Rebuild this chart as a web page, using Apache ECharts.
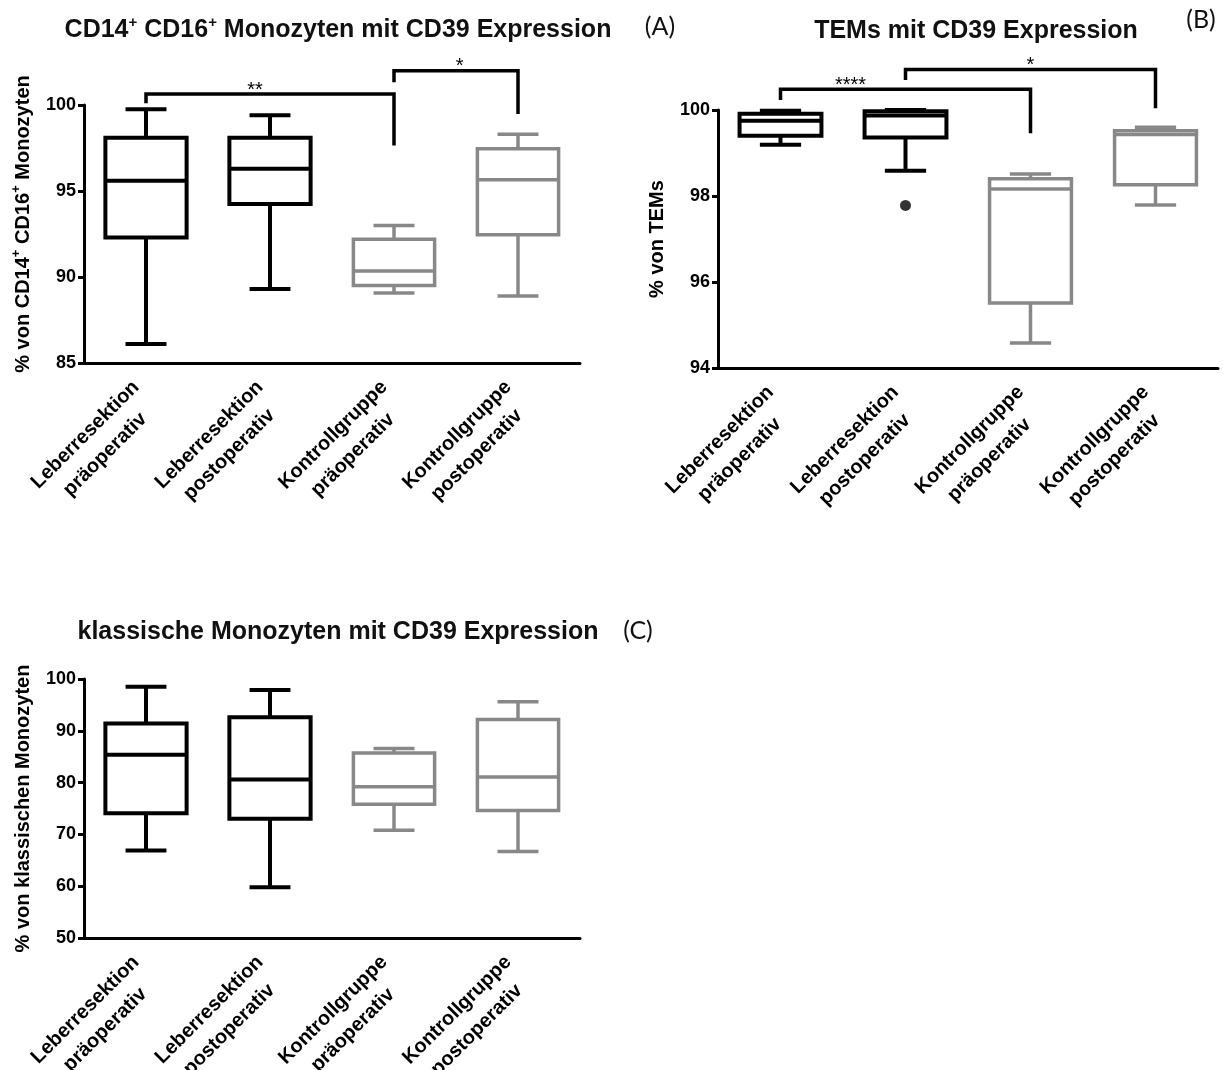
<!DOCTYPE html>
<html>
<head>
<meta charset="utf-8">
<script src="https://cdn.jsdelivr.net/npm/echarts@6/dist/echarts.min.js"></script>
<style>html,body{margin:0;padding:0;background:#fff}#chart{width:1223px;height:1070px}</style>
</head>
<body>
<div id="chart"></div>
<script>
// ---------- data ----------
const categories = ['Leberresektion\npräoperativ', 'Leberresektion\npostoperativ', 'Kontrollgruppe\npräoperativ', 'Kontrollgruppe\npostoperativ'];
// each row: [min, Q1, median, Q3, max]
const boxA = [
  [86.1, 92.3, 95.6, 98.1, 99.75],
  [89.3, 94.25, 96.3, 98.1, 99.4],
  [89.07, 89.5, 90.35, 92.2, 93.0],
  [88.9, 92.45, 95.65, 97.45, 98.3]
];
const boxB = [
  [99.19, 99.4, 99.75, 99.91, 99.98],
  [98.59, 99.36, 99.87, 99.97, 100.0],
  [94.58, 95.51, 98.16, 98.4, 98.51],
  [97.79, 98.26, 99.43, 99.52, 99.6]
];
const outliersB = [[1, 97.78]];
const boxC = [
  [66.9, 74.1, 85.4, 91.4, 98.5],
  [59.8, 73.0, 80.6, 92.6, 97.9],
  [70.8, 75.8, 79.2, 85.7, 86.6],
  [66.7, 74.6, 81.1, 92.2, 95.6]
];
// brackets: [fromCategory, toCategory, barValue, leftLegEndValue, rightLegEndValue, labelPositionFraction]
const bracketsA = [[0, 2, 100.64, 100.1, 97.64, 0.44], [2, 3, 101.99, 101.32, 99.48, 0.53]];
const bracketLabelsA = ['**', '*'];
const bracketsB = [[0, 2, 100.48, 100.23, 99.46, 0.28], [1, 3, 100.94, 100.7, 100.04, 0.5]];
const bracketLabelsB = ['****', '*'];
const yTicksA = {min: 85, max: 100, interval: 5};
const yTicksB = {min: 94, max: 100, interval: 2};
const yTicksC = {min: 50, max: 100, interval: 10};

// ---------- style ----------
const FONT = "'Liberation Sans', Arial, Helvetica, sans-serif";
const catColors = ['#000000', '#000000', '#888888', '#888888'];
const catWidths = [4, 4, 3.5, 3.5];

function boxRender(params, api) {
  const cat = api.value(0);
  const pMin = api.coord([cat, api.value(1)]);
  const pQ1 = api.coord([cat, api.value(2)]);
  const pMed = api.coord([cat, api.value(3)]);
  const pQ3 = api.coord([cat, api.value(4)]);
  const pMax = api.coord([cat, api.value(5)]);
  const band = api.size([1, 0])[0];
  const bw = band * 0.655, cw = band * 0.33;
  const x = pMed[0];
  const st = {stroke: catColors[cat], lineWidth: catWidths[cat], fill: null};
  return {
    type: 'group',
    children: [
      {type: 'line', shape: {x1: x, y1: pQ3[1], x2: x, y2: pMax[1]}, style: st},
      {type: 'line', shape: {x1: x, y1: pQ1[1], x2: x, y2: pMin[1]}, style: st},
      {type: 'line', shape: {x1: x - cw / 2, y1: pMax[1], x2: x + cw / 2, y2: pMax[1]}, style: st},
      {type: 'line', shape: {x1: x - cw / 2, y1: pMin[1], x2: x + cw / 2, y2: pMin[1]}, style: st},
      {type: 'rect', shape: {x: x - bw / 2, y: pQ3[1], width: bw, height: pQ1[1] - pQ3[1]}, style: {stroke: catColors[cat], lineWidth: catWidths[cat], fill: '#fff'}},
      {type: 'line', shape: {x1: x - bw / 2, y1: pMed[1], x2: x + bw / 2, y2: pMed[1]}, style: st}
    ]
  };
}

function bracketRender(labels) {
  return function (params, api) {
    const c1 = api.value(0), c2 = api.value(1);
    const pL = api.coord([c1, api.value(2)]);
    const pR = api.coord([c2, api.value(2)]);
    const pLe = api.coord([c1, api.value(3)]);
    const pRe = api.coord([c2, api.value(4)]);
    const t = api.value(5);
    const lx = pL[0] + (pR[0] - pL[0]) * t;
    return {
      type: 'group',
      children: [
        {type: 'polyline', shape: {points: [[pLe[0], pLe[1]], [pL[0], pL[1]], [pR[0], pR[1]], [pRe[0], pRe[1]]]},
          style: {stroke: '#000', lineWidth: 3.5, fill: null}},
        {type: 'text', x: lx, y: pL[1] - 4,
          style: {text: labels[params.dataIndex], font: '20px ' + FONT, fill: '#000', textAlign: 'center', textVerticalAlign: 'middle'}}
      ]
    };
  };
}

const boxData = arr => arr.map((r, i) => [i].concat(r));

function xAxisCfg(gi) {
  return {
    type: 'category', gridIndex: gi, data: categories,
    axisLine: {lineStyle: {color: '#000', width: 3}},
    axisTick: {alignWithLabel: true, length: 7, lineStyle: {color: '#000', width: 3}},
    axisLabel: {
      interval: 0, rotate: 45, margin: 31, color: '#000', hideOverlap: false,
      formatter: v => v.split('\n').map(s => '{l|' + s + '}').join('\n'),
      rich: {l: {align: 'center', fontFamily: FONT, fontWeight: 'bold', fontSize: 20, lineHeight: 28, color: '#000'}}
    },
    splitLine: {show: false}
  };
}
function yAxisCfg(gi, ticks, name, gap, pad) {
  return {
    type: 'value', gridIndex: gi, min: ticks.min, max: ticks.max, interval: ticks.interval,
    axisLine: {show: true, lineStyle: {color: '#000', width: 3}},
    axisTick: {show: true, length: 6, lineStyle: {color: '#000', width: 3}},
    axisLabel: {fontFamily: FONT, fontWeight: 'bold', fontSize: 18, color: '#000', margin: 8},
    splitLine: {show: false},
    name: name, nameLocation: 'middle', nameGap: gap,
    nameTextStyle: {
      color: '#000',
      padding: pad,
      rich: {
        n: {fontFamily: FONT, fontWeight: 'bold', fontSize: 20, lineHeight: 26, color: '#000'},
        s: {fontFamily: FONT, fontWeight: 'bold', fontSize: 13, lineHeight: 14, verticalAlign: 'top', color: '#000'}
      }
    }
  };
}

const titleRich = {
  b: {fontFamily: FONT, fontWeight: 'bold', fontSize: 25, lineHeight: 30, color: '#111'},
  s: {fontFamily: FONT, fontWeight: 'bold', fontSize: 15, lineHeight: 16, verticalAlign: 'top', color: '#111'}
};
const letterStyle = {fontFamily: "Lato, 'Open Sans', sans-serif", fontWeight: 'normal', fontSize: 25, color: '#111'};

const chart = echarts.init(document.getElementById('chart'), null, {renderer: 'canvas'});
chart.setOption({
  backgroundColor: '#fff',
  animation: false,
  title: [
    {text: '{b|CD14}{s|+}{b| CD16}{s|+}{b| Monozyten mit CD39 Expression}', left: 333, top: 10, textAlign: 'center', textStyle: {rich: titleRich}},
    {text: '{b|TEMs mit CD39 Expression}', left: 971, top: 11, textAlign: 'center', textStyle: {rich: titleRich}},
    {text: '{b|klassische Monozyten mit CD39 Expression}', left: 333, top: 612, textAlign: 'center', textStyle: {rich: titleRich}},
    {text: '(A)', left: 655, top: 9, textAlign: 'center', textStyle: letterStyle},
    {text: '(B)', left: 1196, top: 2, textAlign: 'center', textStyle: letterStyle},
    {text: '(C)', left: 633, top: 613, textAlign: 'center', textStyle: letterStyle}
  ],
  grid: [
    {left: 84, top: 105, width: 496, height: 258, containLabel: false, outerBoundsMode: 'none'},
    {left: 718, top: 110, width: 500, height: 258, containLabel: false, outerBoundsMode: 'none'},
    {left: 84, top: 679, width: 496, height: 259, containLabel: false, outerBoundsMode: 'none'}
  ],
  xAxis: [xAxisCfg(0), xAxisCfg(1), xAxisCfg(2)],
  yAxis: [
    yAxisCfg(0, yTicksA, '{n|% von CD14}{s|+}{n| CD16}{s|+}{n| Monozyten}', 48, [0, 0, 0, 20]),
    yAxisCfg(1, yTicksB, '{n|% von TEMs}', 48, 0),
    yAxisCfg(2, yTicksC, '{n|% von klassischen Monozyten}', 48, 0)
  ],
  series: [
    {type: 'custom', name: 'A', xAxisIndex: 0, yAxisIndex: 0, renderItem: boxRender, data: boxData(boxA), encode: {x: 0, y: [1, 2, 3, 4, 5]}, z: 2},
    {type: 'custom', name: 'B', xAxisIndex: 1, yAxisIndex: 1, renderItem: boxRender, data: boxData(boxB), encode: {x: 0, y: [1, 2, 3, 4, 5]}, z: 2},
    {type: 'custom', name: 'C', xAxisIndex: 2, yAxisIndex: 2, renderItem: boxRender, data: boxData(boxC), encode: {x: 0, y: [1, 2, 3, 4, 5]}, z: 2},
    {type: 'scatter', name: 'B outlier', xAxisIndex: 1, yAxisIndex: 1, data: outliersB, symbol: 'circle', symbolSize: 11, itemStyle: {color: '#000'}, z: 3},
    {type: 'custom', name: 'sigA', xAxisIndex: 0, yAxisIndex: 0, renderItem: bracketRender(bracketLabelsA), data: bracketsA, clip: false, z: 4},
    {type: 'custom', name: 'sigB', xAxisIndex: 1, yAxisIndex: 1, renderItem: bracketRender(bracketLabelsB), data: bracketsB, clip: false, z: 4}
  ]
});
</script>
</body>
</html>
